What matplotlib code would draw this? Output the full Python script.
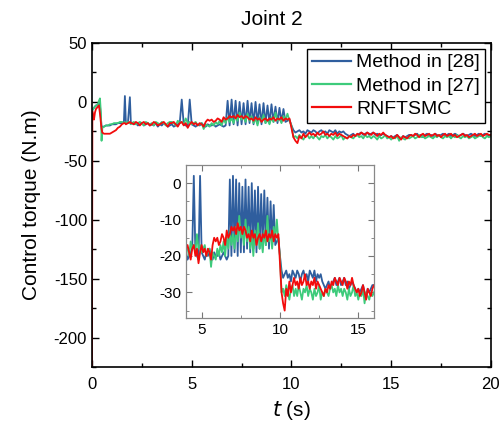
import numpy as np
import matplotlib.pyplot as plt
from matplotlib.ticker import MultipleLocator

plt.rcParams['font.family'] = ['Liberation Sans', 'DejaVu Sans']
plt.rcParams['axes.unicode_minus'] = False

# start-up transient (s), sampled finer
t_early = [0.0, 0.02, 0.05, 0.1, 0.15, 0.2, 0.25, 0.3, 0.35, 0.4, 0.45, 0.48, 0.52,
           0.6, 0.7, 0.8, 0.9, 1.0, 1.1, 1.2, 1.3, 1.4, 1.5, 1.6, 1.65, 1.7, 1.8, 1.9, 1.95]
# rest of the run, 0.1 s steps from 2 s to 20 s
t_main = np.round(np.arange(2.0, 20.05, 0.1), 2)

red_early = [-225, -8, -12, -15, -9, -6, -5, -4, -3, -10, -18, -23, -26, -27, -27, -27, -27,
             -26, -25, -24, -22, -21, -19, -18, -18, -19, -18, -17, -18]
green_early = [-8, -7, -6, -5, -4, -3, -3, -2, 1, 3, -10, -33, -22, -21, -20, -20, -19,
               -19, -18, -18, -18, -17, -17, -18, -17, -18, -17, -18, -19]
blue_early = [-8, -7, -6, -5, -4, -3, -3, -2, -1, -3, -15, -21, -21, -21, -20, -20, -20,
              -19, -19, -19, -18, -18, -18, -17, 5, -18, -18, 4, -18]

red_main = [-18, -19, -17, -18, -20, -18, -17, -19, -18, -20,
            -19, -17, -18, -20, -19, -18, -17, -19, -21, -18,
            -18, -17, -19, -21, -18, -17, -20, -18, -22, -19,
            -17, -19, -18, -20, -18, -19, -21, -17, -15, -16,
            -15, -17, -16, -14, -15, -17, -13, -15, -14, -12,
            -13, -12, -14, -11, -13, -12, -14, -12, -13, -15,
            -14, -16, -13, -15, -14, -17, -15, -14, -16, -14,
            -15, -13, -16, -14, -15, -13, -16, -14, -15, -14,
            -22, -30, -33, -35, -29, -31, -27, -30, -28, -26,
            -28, -27, -29, -26, -28, -27, -25, -28, -27, -29,
            -27, -28, -26, -29, -27, -28, -29, -30, -31, -29,
            -30, -28, -29, -27, -28, -26, -27, -28, -26, -27,
            -28, -26, -27, -29, -27, -28, -26, -28, -29, -30,
            -29, -31, -30, -28, -30, -32, -29, -30, -31, -29,
            -28, -29, -27, -28, -30, -28, -27, -29, -28, -27,
            -29, -28, -27, -29, -28, -30, -28, -27, -29, -28,
            -27, -29, -28, -30, -29, -28, -27, -29, -28, -30,
            -29, -28, -27, -29, -28, -27, -29, -28, -27, -28,
            -28]

green_main = [-18, -17, -19, -18, -17, -18, -20, -17, -18, -19,
              -18, -20, -17, -18, -19, -17, -18, -20, -18, -17,
              -17, -18, -20, -16, -18, -17, -19, -14, -18, -17,
              -19, -18, -17, -20, -19, -18, -23, -19, -20, -21,
              -18, -20, -17, -19, -16, -20, -15, -18, -13, -17,
              -14, -18, -12, -16, -9, -15, -13, -17, -10, -16,
              -12, -18, -14, -20, -13, -17, -11, -18, -15, -19,
              -13, -17, -9, -16, -14, -18, -12, -15, -10, -16,
              -20, -30, -29, -31, -28, -30, -32, -29, -28, -31,
              -29, -31, -28, -30, -32, -29, -30, -28, -31, -29,
              -30, -32, -29, -31, -30, -28, -32, -30, -31, -29,
              -30, -31, -29, -28, -30, -29, -31, -28, -30, -29,
              -31, -29, -30, -32, -29, -31, -30, -28, -31, -30,
              -32, -30, -31, -29, -33, -30, -31, -32, -30, -31,
              -30, -29, -31, -30, -28, -30, -29, -31, -30, -29,
              -30, -31, -29, -30, -28, -30, -31, -29, -30, -29,
              -31, -29, -30, -28, -30, -31, -29, -30, -29, -31,
              -30, -29, -31, -30, -29, -28, -30, -31, -29, -30,
              -29]

blue_main = [-18, -19, -18, -20, -19, -18, -20, -19, -18, -20,
             -19, -20, -18, -21, -19, -20, -18, -19, -21, -20,
             -19, -21, -20, -19, -18, 2, -19, -20, -21, 2,
             -19, -20, -21, -19, -20, -18, -20, -21, -19, -20,
             -20, -19, -21, -20, -19, -20, -21, -20, 1, -20,
             2, -19, 1, -20, 0, -19, -1, -19, 1, -18,
             -1, -19, 0, -18, -2, -19, -1, -18, -3, -18,
             -2, -17, -4, -18, -5, -17, -6, -17, -16, -15,
             -20, -24, -26, -25, -24, -26, -25, -27, -24, -25,
             -26, -24, -25, -27, -25, -24, -26, -25, -27, -24,
             -25, -26, -24, -27, -25, -26, -25, -27, -28, -29,
             -28, -27, -29, -28, -27, -26, -28, -27, -26, -28,
             -27, -26, -28, -27, -29, -28, -27, -28, -29, -30,
             -29, -30, -29, -28, -30, -31, -29, -30, -29, -28,
             -28, -29, -28, -27, -29, -28, -30, -28, -27, -29,
             -28, -29, -27, -28, -29, -28, -27, -29, -28, -27,
             -29, -28, -27, -28, -29, -28, -27, -28, -29, -28,
             -27, -28, -29, -28, -27, -29, -28, -27, -28, -29,
             -28]

labels = ['Method in [28]', 'Method in [27]', 'RNFTSMC']
colors = ['#2f5e9e', '#3dcb7b', '#f20c0c']

t = np.concatenate([t_early, t_main])
series = [np.array(blue_early + blue_main),
          np.array(green_early + green_main),
          np.array(red_early + red_main)]

fig = plt.figure(figsize=(5.04, 4.25), dpi=100)
ax = fig.add_axes([0.1825, 0.1365, 0.7915, 0.7623])
for y, c, lab in zip(series, colors, labels):
    ax.plot(t, y, color=c, lw=1.3, label=lab)

ax.set_xlim(0, 20)
ax.set_ylim(-225, 50)
ax.xaxis.set_major_locator(MultipleLocator(5))
ax.xaxis.set_minor_locator(MultipleLocator(2.5))
ax.yaxis.set_major_locator(MultipleLocator(50))
ax.yaxis.set_minor_locator(MultipleLocator(25))
ax.tick_params(which='both', direction='in', top=True, right=True, labelsize=12)
ax.tick_params(axis='x', which='major', pad=7)
ax.tick_params(which='major', length=5, width=1)
ax.tick_params(which='minor', length=3, width=1)
for s in ax.spines.values():
    s.set_linewidth(1.2)
ax.set_xlabel('$t$ (s)', fontsize=15, labelpad=5)
ax.set_ylabel('Control torque (N.m)', fontsize=15, labelpad=9)
fig.text(0.54, 0.953, 'Joint 2', fontsize=15, ha='center', va='center')

leg = ax.legend(loc='upper right', fontsize=14, frameon=True, fancybox=False,
                edgecolor='black', framealpha=1, handlelength=2.0, handletextpad=0.3,
                borderpad=0.25, labelspacing=0.3, borderaxespad=0.3)
leg.get_frame().set_linewidth(1.0)
for h in leg.get_lines():
    h.set_linewidth(1.6)

# zoomed inset 4-16 s
axi = fig.add_axes([0.369, 0.252, 0.373, 0.36])
for y, c in zip(series, colors):
    axi.plot(t, y, color=c, lw=1.3)
axi.set_xlim(4, 16)
axi.set_ylim(-37, 5)
axi.xaxis.set_major_locator(MultipleLocator(5))
axi.xaxis.set_minor_locator(MultipleLocator(2.5))
axi.yaxis.set_major_locator(MultipleLocator(10))
axi.yaxis.set_minor_locator(MultipleLocator(5))
axi.tick_params(which='both', direction='in', top=True, right=True, labelsize=11,
                color='#777777')
axi.tick_params(which='major', length=4)
axi.tick_params(which='minor', length=2)
for s in axi.spines.values():
    s.set_color('#888888')
    s.set_linewidth(0.9)

fig.savefig('out.png', dpi=100)
